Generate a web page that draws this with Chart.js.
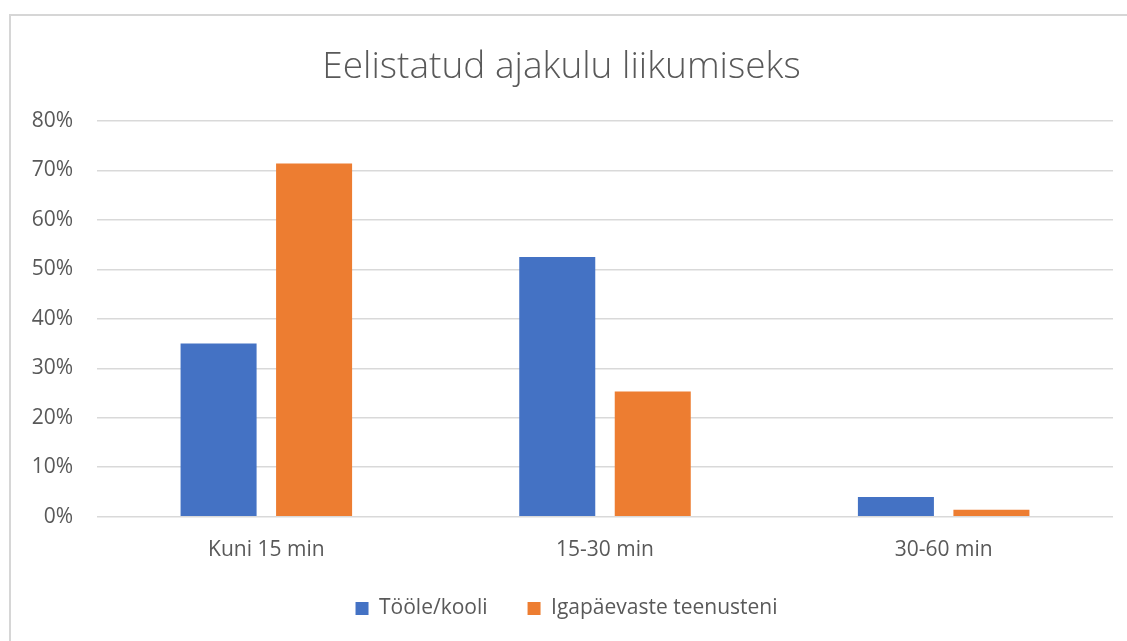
<!DOCTYPE html>
<html>
<head>
<meta charset="utf-8">
<script src="https://cdn.jsdelivr.net/npm/chart.js@4.4.1/dist/chart.umd.min.js"></script>
<style>
  html, body { margin: 0; padding: 0; background: #ffffff; }
  #wrap { width: 1127px; height: 641px; }
</style>
</head>
<body>
<div id="wrap"><canvas id="c" width="1127" height="641"></canvas></div>
<script>
// Categories, series and axis ticks
const categories = ['Kuni 15 min', '15-30 min', '30-60 min'];
const tooleKooli = [35.0, 52.5, 4.0];
const igapaevasteTeenusteni = [71.4, 25.3, 1.4];
const seriesNames = ['Tööle/kooli', 'Igapäevaste teenusteni'];
const yTicks = [0, 10, 20, 30, 40, 50, 60, 70, 80];
const chartTitle = 'Eelistatud ajakulu liikumiseks';

const textColor = '#595959';
const gridColor = '#d9d9d9';
const fontFamily = '"Open Sans", Lato, "Noto Sans", sans-serif';

// White page with the light grey frame around the chart
const framePlugin = {
  id: 'frame',
  beforeDraw(chart) {
    const ctx = chart.ctx;
    ctx.save();
    ctx.fillStyle = '#ffffff';
    ctx.fillRect(0, 0, chart.width, chart.height);
    ctx.strokeStyle = '#d6d6d6';
    ctx.lineWidth = 2;
    ctx.strokeRect(10, 15, chart.width + 20, chart.height + 20);
    ctx.restore();
  }
};

// Nudge the legend so it sits centred under the plot area
const legendShift = {
  id: 'legendShift',
  afterLayout(chart) {
    if (chart.legend) {
      chart.legend.left += 5;
      chart.legend.right += 5;
    }
  }
};

new Chart(document.getElementById('c'), {
  type: 'bar',
  data: {
    labels: categories,
    datasets: [
      {
        label: seriesNames[0],
        data: tooleKooli,
        backgroundColor: '#4472C4',
        borderWidth: 0
      },
      {
        label: seriesNames[1],
        data: igapaevasteTeenusteni,
        backgroundColor: '#ED7D31',
        borderWidth: 0
      }
    ]
  },
  plugins: [framePlugin, legendShift],
  options: {
    responsive: false,
    animation: false,
    devicePixelRatio: 1,
    layout: { padding: { left: 10, right: 14, top: 0, bottom: 12 } },
    datasets: {
      bar: { categoryPercentage: 0.564, barPercentage: 0.796 }
    },
    plugins: {
      tooltip: { enabled: false },
      title: {
        display: true,
        text: chartTitle,
        color: textColor,
        font: { family: fontFamily, size: 37, weight: '300', lineHeight: 1.2 },
        padding: { top: 45, bottom: 31.6 }
      },
      legend: {
        display: true,
        position: 'bottom',
        labels: {
          color: textColor,
          font: { family: fontFamily, size: 21 },
          boxWidth: 13,
          boxHeight: 13,
          padding: 40
        }
      }
    },
    scales: {
      x: {
        grid: { display: false, drawTicks: false },
        border: { display: false },
        afterFit(scale) { scale.height = 41.3; },
        ticks: {
          color: textColor,
          font: { family: fontFamily, size: 21, lineHeight: 1.2 },
          padding: 20.7
        }
      },
      y: {
        min: yTicks[0],
        max: yTicks[yTicks.length - 1],
        afterBuildTicks(scale) {
          scale.ticks = yTicks.map(v => ({ value: v }));
        },
        afterFit(scale) { scale.width = 87; },
        grid: { color: gridColor, lineWidth: 1.5, drawTicks: false },
        border: { display: false },
        ticks: {
          color: textColor,
          font: { family: fontFamily, size: 21 },
          padding: 24,
          callback: v => v + '%'
        }
      }
    }
  }
});
</script>
</body>
</html>
